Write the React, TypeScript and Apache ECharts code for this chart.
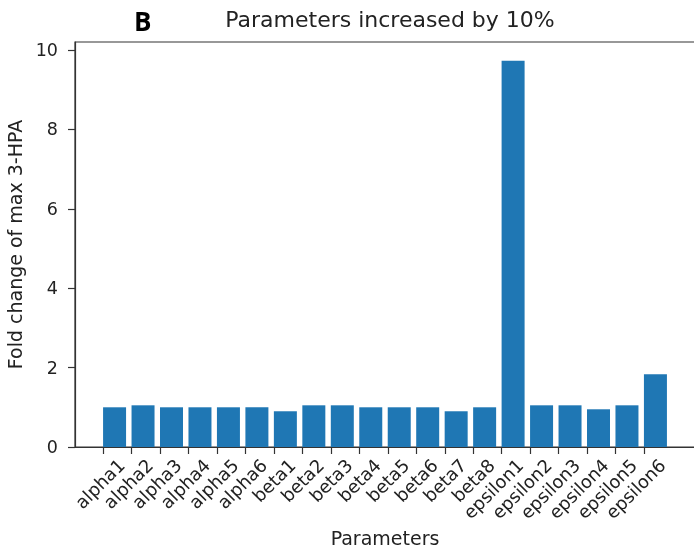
import React, { useEffect, useRef } from "react";
import * as echarts from "echarts";

const categories = [
  "alpha1", "alpha2", "alpha3", "alpha4", "alpha5", "alpha6",
  "beta1", "beta2", "beta3", "beta4", "beta5", "beta6", "beta7", "beta8",
  "epsilon1", "epsilon2", "epsilon3", "epsilon4", "epsilon5", "epsilon6",
];
const values = [
  1.0, 1.05, 1.0, 1.0, 1.0, 1.0,
  0.9, 1.05, 1.05, 1.0, 1.0, 1.0, 0.9, 1.0,
  9.73, 1.05, 1.05, 0.95, 1.05, 1.83,
];
const yTicks = [0, 2, 4, 6, 8, 10];
const titleText = "Parameters increased by 10%";
const panelLabel = "B";
const xName = "Parameters";
const yName = "Fold change of max 3-HPA";

// bars are edge-aligned to their tick (matplotlib align="edge"), width 0.8
const BAR_W = 0.8;
// rotated tick labels are centred on the tick (matplotlib ha="center"),
// so their upper end sits a little to the right of the tick
const LABEL_SHIFT = 0.64;

const FONT = "DejaVu Sans";
const TXT = "#222";

export default function App() {
  const ref = useRef<HTMLDivElement>(null);
  useEffect(() => {
    if (!ref.current) return;
    const chart = echarts.init(ref.current, undefined, { renderer: "svg" });
    const idx = categories.map((_, i) => i);
    const labelPos = idx.map((i) => i + LABEL_SHIFT);
    const n = categories.length;
    const span = n - 1 + BAR_W;
    const pad = span * 0.05;
    chart.setOption({
      animation: false,
      textStyle: { fontFamily: FONT },
      title: [
        {
          text: titleText,
          left: 385,
          top: 3,
          textAlign: "center",
          textStyle: { fontFamily: FONT, fontSize: 22, fontWeight: "normal", color: TXT },
        },
        {
          text: panelLabel,
          left: 129,
          top: 3,
          textStyle: { fontFamily: "Open Sans", fontSize: 26, fontWeight: "bold", color: "#000" },
        },
      ],
      grid: {
        left: 75, right: -1, top: 42, bottom: 105,
        outerBoundsMode: "none",
        containLabel: false,
        show: true, borderColor: "#333", borderWidth: 1.2, backgroundColor: "transparent",
      },
      xAxis: {
        type: "value",
        min: -pad,
        max: span + pad,
        name: xName,
        nameLocation: "middle",
        nameGap: 81,
        nameTextStyle: { fontFamily: FONT, fontSize: 19, color: TXT },
        axisLine: { show: true, onZero: false, lineStyle: { color: "#333", width: 1.2 } },
        axisTick: { show: true, inside: false, length: 7, customValues: idx, lineStyle: { color: "#333", width: 1.2 } },
        splitLine: { show: false },
        axisLabel: {
          customValues: labelPos,
          rotate: 45,
          margin: 15,
          align: "right",
          verticalAlign: "middle",
          fontFamily: FONT,
          fontSize: 18,
          color: TXT,
          formatter: (v: number) => categories[Math.round(v - LABEL_SHIFT)] ?? "",
        },
      },
      yAxis: {
        type: "value",
        min: 0,
        max: 10.2,
        name: yName,
        nameLocation: "middle",
        nameGap: 44,
        nameTextStyle: { fontFamily: FONT, fontSize: 19, color: TXT },
        axisLine: { show: true, onZero: false, lineStyle: { color: "#333", width: 1.2 } },
        axisTick: { show: true, length: 7, customValues: yTicks, lineStyle: { color: "#333", width: 1.2 } },
        splitLine: { show: false },
        axisLabel: {
          customValues: yTicks,
          margin: 17,
          fontFamily: FONT,
          fontSize: 17.5,
          color: TXT,
        },
      },
      series: [
        {
          type: "bar",
          data: values.map((v, i) => [i + BAR_W / 2, v]),
          barWidth: 23,
          itemStyle: { color: "#1f77b4" },
        },
      ],
    });
    return () => chart.dispose();
  }, []);
  return <div ref={ref} style={{ position: "fixed", left: 0, top: 0, width: 694, height: 552 }} />;
}
